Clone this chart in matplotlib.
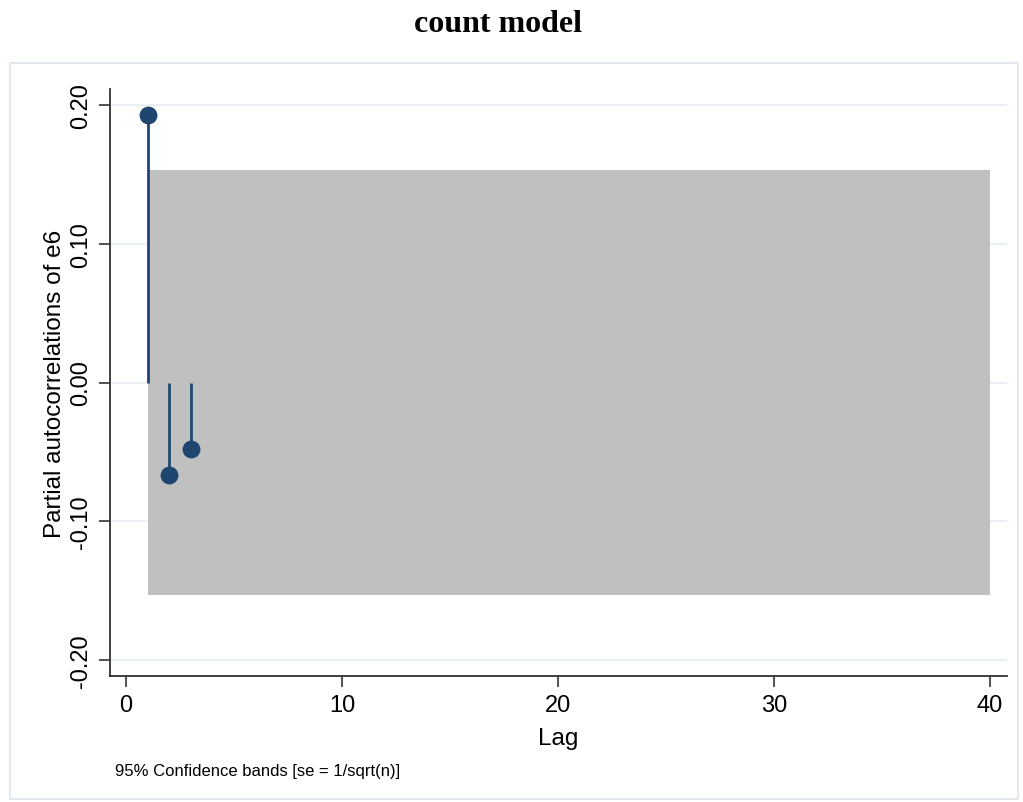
import numpy as np
import matplotlib
matplotlib.use('Agg')
import matplotlib.pyplot as plt
from matplotlib.patches import Rectangle

plt.rcParams['font.family'] = ['Liberation Sans', 'DejaVu Sans']

# partial autocorrelations
lags = [1, 2, 3]
pacf = [0.193, -0.067, -0.048]
band_lags = [1, 40]
band_half = 0.1528  # 1.96 / sqrt(n)
y_ticks = [-0.20, -0.10, 0.00, 0.10, 0.20]
x_ticks = [0, 10, 20, 30, 40]

stem_colour = '#1f4670'
band_colour = '#c0c0c0'
grid_colour = '#eaf0f3'
axis_colour = '#333333'

fig = plt.figure(figsize=(10.23, 8.03), dpi=100)

# light frame around the graph region
fig.patches.append(Rectangle((10 / 1023, 1 - 800 / 803), 1008 / 1023, 736 / 803,
                             transform=fig.transFigure, facecolor='none',
                             edgecolor='#e3eaef', linewidth=1.5, zorder=-1))

ax = fig.add_axes([110 / 1023, 1 - 677 / 803, 897 / 1023, 587 / 803])
ax.set_facecolor('none')

ax.fill_between(band_lags, -band_half, band_half, color=band_colour,
                linewidth=0, zorder=2)
for y in y_ticks:
    ax.axhline(y, color=grid_colour, linewidth=1.5, zorder=1)

ax.vlines(lags, 0, pacf, color=stem_colour, linewidth=2, zorder=3)
ax.scatter(lags, pacf, s=140, color=stem_colour, zorder=4)

ax.set_xlim(-0.74, 40.8)
ax.set_ylim(-0.2115, 0.2115)
ax.set_xticks(x_ticks)
ax.set_yticks(y_ticks)
ax.set_yticklabels(['%.2f' % v for v in y_ticks], rotation=90, va='center')
ax.tick_params(axis='both', labelsize=17, length=8, width=1.2,
               color=axis_colour, pad=5)

for side in ['top', 'right']:
    ax.spines[side].set_visible(False)
for side in ['left', 'bottom']:
    ax.spines[side].set_color(axis_colour)
    ax.spines[side].set_linewidth(1.3)

ax.set_xlabel('Lag', fontsize=17.5, labelpad=8)
ax.set_ylabel('Partial autocorrelations of e6', fontsize=17.5, labelpad=3)

fig.text(115 / 1023, 1 - 772 / 803, '95% Confidence bands [se = 1/sqrt(n)]',
         fontsize=12, va='center', ha='left')
fig.text(498 / 1023, 1 - 25 / 803, 'count model', fontsize=23,
         fontweight='bold', family='Liberation Serif', ha='center', va='center')

fig.savefig('out.png', dpi=100)
